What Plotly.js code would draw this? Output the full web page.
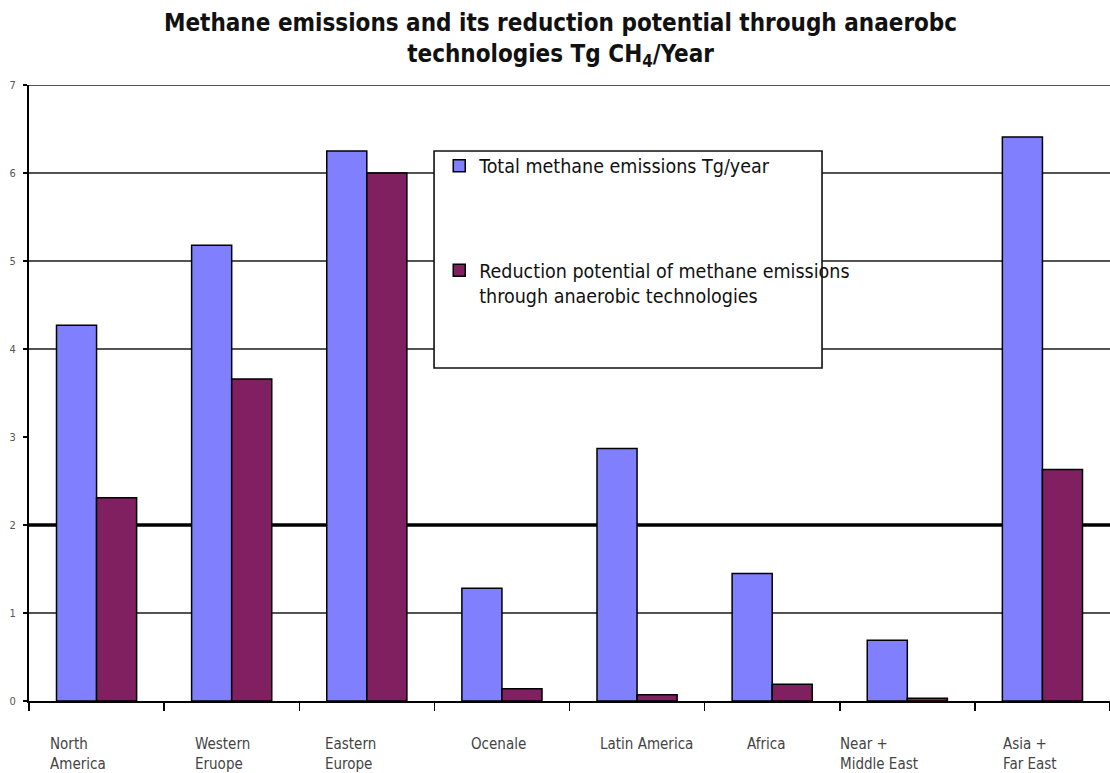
<!DOCTYPE html>
<html>
<head>
<meta charset="utf-8">
<script src="https://cdn.plot.ly/plotly-3.0.1.min.js"></script>
<style>
  html, body { margin: 0; padding: 0; background: #fff; }
  #chart { width: 1110px; height: 773px; }
</style>
</head>
<body>
<div id="chart"></div>
<script>
// Regions (category axis) and the two series in Tg CH4 per year
const regions = ["North America", "Western Eruope", "Eastern Europe", "Ocenale",
                 "Latin America", "Africa", "Near + Middle East", "Asia + Far East"];
const regionLabels = ["North<br>America", "Western<br>Eruope", "Eastern<br>Europe", "Ocenale",
                      "Latin America", "Africa", "Near +<br>Middle East", "Asia +<br>Far East"];
const totalEmissions = [4.27, 5.18, 6.25, 1.28, 2.87, 1.45, 0.69, 6.41];
const reductionPotential = [2.31, 3.66, 6.0, 0.14, 0.07, 0.19, 0.03, 2.63];
const seriesNames = ["Total methane emissions Tg/year",
                     "Reduction potential of methane emissions<br>through anaerobic technologies"];
const gridLevels = [1, 4, 5, 6, 7];
const heavyGridLevels = [2];

const narrow = "'DejaVu Sans Condensed', 'Liberation Sans Narrow', sans-serif";

// horizontal offsets of each category label, in pixels from the category centre
const labelShift = [-49, -39, -44, -33, -39, -27, -69, -41];

const traces = [
  {
    type: "bar", name: seriesNames[0], legendgroup: "a",
    x: regions, y: totalEmissions,
    marker: { color: "#8080ff", line: { color: "#000", width: 1.5 } }
  },
  {
    type: "bar", name: seriesNames[1], legendgroup: "b",
    x: regions, y: reductionPotential,
    marker: { color: "#802060", line: { color: "#000", width: 1.5 } }
  }
];

const shapes = [];
gridLevels.forEach(v => shapes.push({
  type: "line", xref: "paper", yref: "y", x0: 0, x1: 1, y0: v, y1: v,
  layer: "below", line: { color: "#1a1a1a", width: 1.6 }
}));
heavyGridLevels.forEach(v => shapes.push({
  type: "line", xref: "paper", yref: "y", x0: 0, x1: 1, y0: v, y1: v,
  layer: "below", line: { color: "#000", width: 3.5 }
}));
// legend frame
shapes.push({
  type: "rect", xref: "paper", yref: "paper",
  x0: 0.3747, x1: 0.7336, y0: 0.5406, y1: 0.8929,
  layer: "below", fillcolor: "#fff", line: { color: "#111", width: 1.6 }
});

const annotations = regions.map((r, i) => ({
  x: r, xref: "x", y: -0.052, yref: "paper",
  text: regionLabels[i], showarrow: false,
  xanchor: "left", yanchor: "top", align: "left", xshift: labelShift[i],
  font: { family: narrow, size: 15, color: "#444" }
}));

const layout = {
  width: 1110, height: 773,
  margin: { l: 29, r: 0, t: 85, b: 72 },
  paper_bgcolor: "#fff", plot_bgcolor: "rgba(0,0,0,0)",
  title: {
    text: "Methane emissions and its reduction potential through anaerobc<br>technologies Tg CH<sub>4</sub>/Year",
    font: { family: narrow, size: 24, color: "#111", weight: "bold" },
    xref: "container", x: 0.505, xanchor: "center",
    yref: "container", y: 0.96, yanchor: "top"
  },
  barmode: "group", bargap: 0.407, bargroupgap: 0,
  xaxis: {
    type: "category", range: [-0.5, 7.5], showticklabels: false,
    showline: true, linecolor: "#000", linewidth: 1.5,
    ticks: "outside", tickson: "boundaries", ticklen: 8, tickcolor: "#000", tickwidth: 1.5,
    showgrid: false, zeroline: false, fixedrange: true
  },
  yaxis: {
    range: [0, 7], dtick: 1, tick0: 0,
    showline: true, linecolor: "#000", linewidth: 2,
    ticks: "outside", ticklen: 4, tickcolor: "#000", tickwidth: 1.5,
    ticklabelstandoff: 5,
    tickfont: { family: narrow, size: 11, color: "#555" },
    showgrid: false, zeroline: false, fixedrange: true
  },
  showlegend: true,
  legend: {
    x: 0.3795, xanchor: "left", y: 0.9, yanchor: "top",
    bgcolor: "rgba(0,0,0,0)", borderwidth: 0,
    traceorder: "grouped", tracegroupgap: 76, valign: "top",
    font: { family: narrow, size: 19.5, color: "#111" }
  },
  shapes: shapes,
  annotations: annotations
};

Plotly.newPlot("chart", traces, layout, { staticPlot: true, displayModeBar: false });
</script>
</body>
</html>
